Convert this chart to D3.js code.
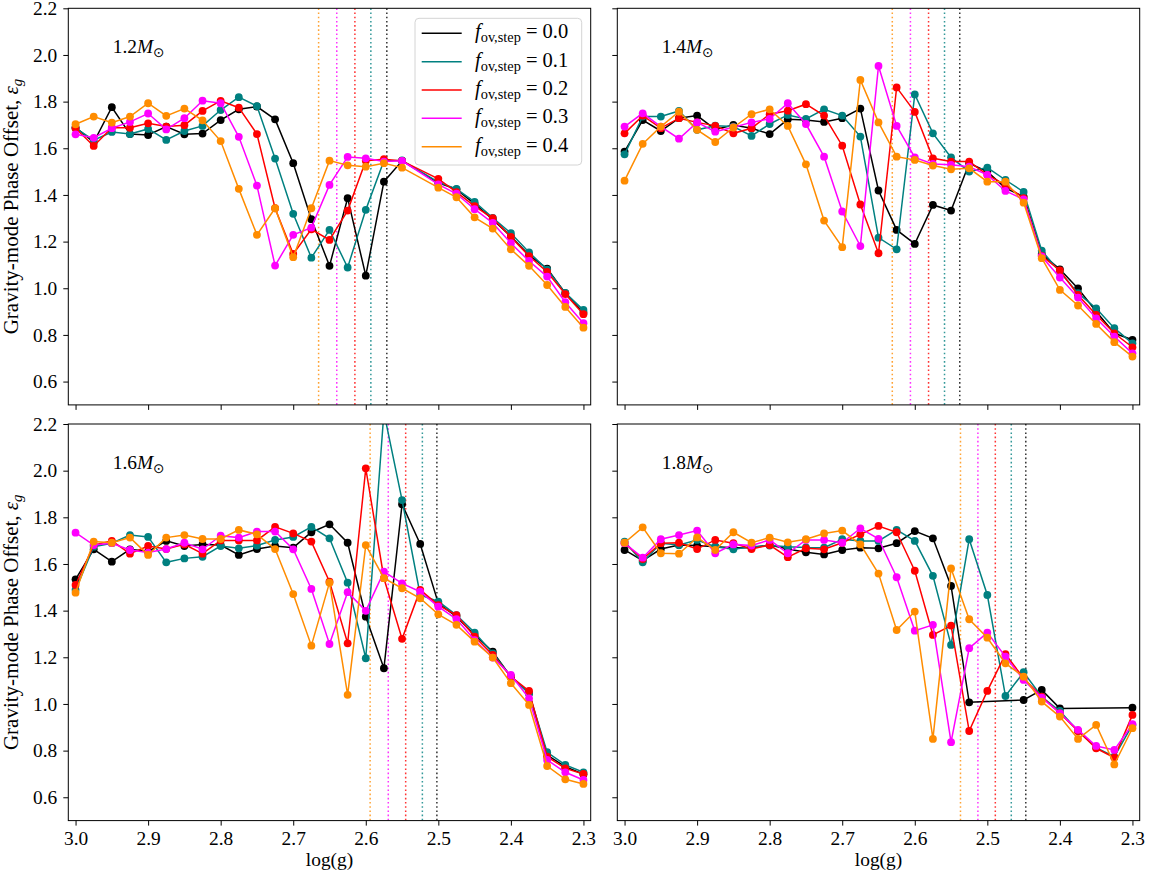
<!DOCTYPE html>
<html>
<head>
<meta charset="utf-8">
<script src="https://cdn.jsdelivr.net/npm/d3@7"></script>
<style>
  body { margin: 0; background: #fff; }
  text { font-family: "Liberation Serif", "DejaVu Serif", serif; fill: #000; }
</style>
</head>
<body>
<div id="chart"></div>
<script>
// log(g) grid shared by the model tracks
const logg = [3.000, 2.975, 2.950, 2.925, 2.900, 2.875, 2.850, 2.825, 2.800, 2.775,
              2.750, 2.725, 2.700, 2.675, 2.650, 2.625, 2.600, 2.575, 2.550, 2.525,
              2.500, 2.475, 2.450, 2.425, 2.400, 2.375, 2.350, 2.325, 2.300];

const masses = ["1.2", "1.4", "1.6", "1.8"];
const fovStep = ["0.0", "0.1", "0.2", "0.3", "0.4"];

const xTicks = [3.0, 2.9, 2.8, 2.7, 2.6, 2.5, 2.4, 2.3];
const yTicks = [0.6, 0.8, 1.0, 1.2, 1.4, 1.6, 1.8, 2.0, 2.2];

// eps_g, one row per f_ov,step (0.0 ... 0.4); null = no model at that log(g)
const eps12 = [
  [1.690, 1.625, 1.776, 1.661, 1.657, 1.693, 1.660, 1.663, 1.721, 1.767, 1.779, 1.724, 1.536, 1.296, 1.096, 1.386, 1.054, 1.457, 1.546, null, 1.452, 1.424, 1.362, 1.295, 1.222, 1.142, 1.084, 0.979, 0.895],
  [1.686, 1.635, 1.670, 1.661, 1.683, 1.636, 1.674, 1.696, 1.764, 1.819, 1.781, 1.556, 1.319, 1.131, 1.250, 1.089, 1.336, 1.547, 1.548, null, 1.455, 1.426, 1.370, 1.302, 1.236, 1.154, 1.080, 0.980, 0.907],
  [1.686, 1.610, 1.688, 1.688, 1.707, 1.693, 1.699, 1.760, 1.803, 1.774, 1.661, 1.343, 1.147, 1.253, 1.207, 1.333, 1.547, 1.553, 1.546, null, 1.469, 1.412, 1.352, 1.300, 1.220, 1.138, 1.070, 0.975, 0.889],
  [1.660, 1.645, 1.686, 1.713, 1.749, 1.681, 1.729, 1.804, 1.793, 1.649, 1.440, 1.097, 1.229, 1.260, 1.443, 1.563, 1.557, 1.543, 1.546, null, 1.445, 1.405, 1.339, 1.280, 1.193, 1.117, 1.050, 0.940, 0.850],
  [1.703, 1.736, 1.710, 1.736, 1.793, 1.739, 1.770, 1.720, 1.631, 1.426, 1.229, 1.343, 1.133, 1.343, 1.547, 1.527, 1.521, 1.536, 1.517, null, 1.431, 1.390, 1.304, 1.256, 1.167, 1.096, 1.014, 0.920, 0.831]
];
const eps14 = [
  [1.586, 1.721, 1.674, 1.729, 1.740, 1.681, 1.700, 1.686, 1.661, 1.724, 1.721, 1.713, 1.729, 1.770, 1.419, 1.250, 1.190, 1.357, 1.333, 1.536, 1.500, 1.429, 1.393, 1.147, 1.081, 0.999, 0.900, 0.807, 0.779],
  [1.574, 1.736, 1.736, 1.760, 1.679, 1.697, 1.693, 1.653, 1.704, 1.743, 1.726, 1.767, 1.740, 1.650, 1.217, 1.167, 1.831, 1.664, 1.561, 1.500, 1.517, 1.464, 1.413, 1.161, 1.070, 0.979, 0.914, 0.829, 0.764],
  [1.664, 1.740, 1.686, 1.729, 1.711, 1.696, 1.664, 1.686, 1.746, 1.761, 1.789, 1.740, 1.611, 1.359, 1.150, 1.861, 1.756, 1.557, 1.543, 1.543, 1.486, 1.443, 1.386, 1.139, 1.076, 0.971, 0.886, 0.807, 0.747],
  [1.693, 1.750, 1.693, 1.641, 1.711, 1.671, 1.690, 1.711, 1.726, 1.793, 1.704, 1.564, 1.329, 1.181, 1.953, 1.696, 1.561, 1.533, 1.529, 1.521, 1.486, 1.417, 1.381, 1.136, 1.046, 0.960, 0.871, 0.793, 0.721],
  [1.461, 1.619, 1.693, 1.757, 1.679, 1.627, 1.689, 1.746, 1.767, 1.696, 1.531, 1.290, 1.176, 1.893, 1.711, 1.564, 1.550, 1.526, 1.510, 1.514, 1.457, 1.457, 1.367, 1.129, 0.993, 0.926, 0.847, 0.769, 0.707]
];
const eps16 = [
  [1.534, 1.663, 1.610, 1.663, 1.653, 1.699, 1.677, 1.684, 1.681, 1.639, 1.664, 1.677, 1.670, 1.736, 1.770, 1.691, 1.374, 1.153, 1.856, 1.686, 1.431, 1.374, 1.296, 1.224, 1.117, 1.046, 0.781, 0.731, 0.699],
  [1.489, 1.674, 1.689, 1.724, 1.716, 1.607, 1.624, 1.631, 1.677, 1.667, 1.679, 1.703, 1.716, 1.759, 1.710, 1.520, 1.196, 2.250, 1.874, 1.467, 1.439, 1.381, 1.306, 1.217, 1.117, 1.046, 0.793, 0.739, 0.707],
  [1.510, 1.681, 1.699, 1.644, 1.677, 1.664, 1.684, 1.644, 1.701, 1.701, 1.701, 1.759, 1.731, 1.696, 1.524, 1.260, 2.010, 1.539, 1.279, 1.489, 1.424, 1.381, 1.289, 1.210, 1.117, 1.056, 0.774, 0.724, 0.700],
  [1.734, 1.681, 1.689, 1.660, 1.649, 1.664, 1.691, 1.663, 1.721, 1.713, 1.739, 1.739, 1.663, 1.493, 1.257, 1.479, 1.399, 1.567, 1.517, 1.481, 1.417, 1.364, 1.274, 1.199, 1.124, 1.024, 0.760, 0.707, 0.674],
  [1.477, 1.696, 1.691, 1.713, 1.639, 1.713, 1.724, 1.707, 1.707, 1.746, 1.727, 1.664, 1.471, 1.250, 1.520, 1.039, 1.681, 1.539, 1.496, 1.453, 1.384, 1.339, 1.267, 1.199, 1.089, 0.996, 0.734, 0.677, 0.657]
];
const eps18 = [
  [1.660, 1.614, 1.664, 1.681, 1.679, 1.674, 1.670, 1.670, 1.681, 1.664, 1.650, 1.641, 1.660, 1.670, 1.667, 1.689, 1.741, 1.710, 1.506, 1.007, null, null, 1.017, 1.060, 0.981, null, null, null, 0.984],
  [1.696, 1.607, 1.689, 1.681, 1.703, 1.674, 1.663, 1.674, 1.679, 1.674, 1.671, 1.670, 1.706, 1.699, 1.699, 1.746, 1.699, 1.549, 1.253, 1.706, 1.467, 1.034, 1.136, 1.031, 0.970, 0.884, 0.813, 0.774, 0.910],
  [1.689, 1.621, 1.689, 1.691, 1.664, 1.703, 1.689, 1.664, 1.681, 1.629, 1.667, 1.663, 1.691, 1.727, 1.763, 1.736, 1.571, 1.296, 1.336, 0.884, 1.056, 1.213, 1.110, 1.031, 0.960, 0.884, 0.810, 0.770, 0.953],
  [1.689, 1.627, 1.706, 1.724, 1.743, 1.646, 1.684, 1.679, 1.703, 1.646, 1.703, 1.703, 1.691, 1.753, 1.708, 1.543, 1.314, 1.339, 0.836, 1.239, 1.306, 1.203, 1.103, 1.027, 0.960, 0.889, 0.820, 0.803, 0.913],
  [1.691, 1.757, 1.646, 1.644, 1.714, 1.660, 1.736, 1.691, 1.713, 1.693, 1.706, 1.731, 1.743, 1.684, 1.559, 1.317, 1.396, 0.850, 1.581, 1.363, 1.284, 1.174, 1.117, 1.010, 0.946, 0.850, 0.910, 0.741, 0.896]
];

// log(g) of the dotted vertical markers, per f_ov,step (0.0 ... 0.4)
const bnd12 = [2.571, 2.593, 2.615, 2.640, 2.665];
const bnd14 = [2.538, 2.559, 2.581, 2.606, 2.631];
const bnd16 = [2.502, 2.522, 2.545, 2.569, 2.594];
const bnd18 = [2.447, 2.467, 2.489, 2.513, 2.537];

const colors = ["#000000", "#008080", "#ff0000", "#ff00ff", "#ff8c00"];

const panels = [
  { mass: masses[0], eps: eps12, bnd: bnd12, col: 0, row: 0 },
  { mass: masses[1], eps: eps14, bnd: bnd14, col: 1, row: 0 },
  { mass: masses[2], eps: eps16, bnd: bnd16, col: 0, row: 1 },
  { mass: masses[3], eps: eps18, bnd: bnd18, col: 1, row: 1 }
];

const W = 1153, H = 875;
const colX = [68.3, 617.3], rowY = [8.3, 424];
const pw = 522.4, ph = 396.6;
const fs = 19.4;

const svg = d3.select("#chart").append("svg")
  .attr("width", W).attr("height", H);

const x = d3.scaleLinear().domain([3.01, 2.29]).range([0, pw]);
const y = d3.scaleLinear().domain([0.5, 2.2]).range([ph, 0]);

const line = d3.line().x(d => x(d.g)).y(d => y(d.e));

panels.forEach((p, pi) => {
  const g = svg.append("g")
    .attr("transform", `translate(${colX[p.col]},${rowY[p.row]})`);

  g.append("clipPath").attr("id", "clip" + pi)
    .append("rect").attr("width", pw).attr("height", ph);

  const plot = g.append("g").attr("clip-path", `url(#clip${pi})`);

  // boundary markers
  plot.selectAll(".bnd").data(p.bnd).join("line")
    .attr("x1", d => x(d)).attr("x2", d => x(d))
    .attr("y1", 0).attr("y2", ph)
    .attr("stroke", (d, i) => colors[i])
    .attr("stroke-width", 1.5)
    .attr("stroke-dasharray", "1.6,2.6")
    .attr("opacity", 0.8);

  p.eps.forEach((row, k) => {
    const pts = logg.map((gv, i) => ({ g: gv, e: row[i] })).filter(d => d.e !== null);
    plot.append("path").datum(pts)
      .attr("fill", "none")
      .attr("stroke", colors[k])
      .attr("stroke-width", 1.5)
      .attr("d", line);
    plot.selectAll(null).data(pts).join("circle")
      .attr("cx", d => x(d.g)).attr("cy", d => y(d.e))
      .attr("r", 3.9)
      .attr("fill", colors[k]);
  });

  // axes
  const ax = g.append("g").attr("transform", `translate(0,${ph})`)
    .call(d3.axisBottom(x).tickValues(xTicks).tickSize(5).tickPadding(6)
      .tickFormat(p.row === 1 ? d3.format(".1f") : () => ""));
  const ay = g.append("g")
    .call(d3.axisLeft(y).tickValues(yTicks).tickSize(5).tickPadding(6)
      .tickFormat(p.col === 0 ? d3.format(".1f") : () => ""));
  [ax, ay].forEach(a => {
    a.select(".domain").remove();
    a.attr("font-family", null).attr("font-size", fs);
    a.selectAll("line").attr("stroke", "#000").attr("stroke-width", 1);
    a.selectAll("text").attr("fill", "#000");
  });

  g.append("rect").attr("width", pw).attr("height", ph)
    .attr("fill", "none").attr("stroke", "#000").attr("stroke-width", 1);

  // mass label
  const ml = g.append("text")
    .attr("x", 0.085 * pw).attr("y", 45)
    .attr("font-size", fs);
  ml.append("tspan").text(p.mass);
  ml.append("tspan").attr("font-style", "italic").text("M");
  ml.append("tspan").attr("font-size", fs * 0.7).attr("dy", 4)
    .attr("font-family", "DejaVu Sans").text("\u2299");

  if (p.col === 0) {
    const yl = svg.append("text")
      .attr("transform", `translate(18,${rowY[p.row] + ph / 2}) rotate(-90)`)
      .attr("text-anchor", "middle")
      .attr("font-size", 21);
    yl.append("tspan").text("Gravity-mode Phase Offset, ");
    yl.append("tspan").attr("font-style", "italic").text("\u03b5");
    yl.append("tspan").attr("font-style", "italic").attr("font-size", 21 * 0.7)
      .attr("dy", 4).text("g");
  }
  if (p.row === 1) {
    svg.append("text")
      .attr("x", colX[p.col] + pw / 2).attr("y", 866)
      .attr("text-anchor", "middle")
      .attr("font-size", fs)
      .text("log(g)");
  }

  if (pi === 0) {
    const lg = g.append("g").attr("transform", `translate(${415 - colX[0]},${18.3 - rowY[0]})`);
    lg.append("rect")
      .attr("width", 166.7).attr("height", 146.7)
      .attr("rx", 4)
      .attr("fill", "#fff").attr("fill-opacity", 0.8)
      .attr("stroke", "#d4d4d4").attr("stroke-width", 1);
    fovStep.forEach((f, k) => {
      const cy = 15 + 28.35 * k;
      lg.append("line")
        .attr("x1", 6.7).attr("x2", 46.7).attr("y1", cy).attr("y2", cy)
        .attr("stroke", colors[k]).attr("stroke-width", 1.5);
      const t = lg.append("text").attr("x", 60).attr("y", cy + 5).attr("font-size", 20.5);
      t.append("tspan").attr("font-style", "italic").text("f");
      t.append("tspan").attr("font-size", 20.5 * 0.7).attr("dy", 4).text("ov,step");
      t.append("tspan").attr("dy", -4).text(" = " + f);
    });
  }
});
</script>
</body>
</html>
